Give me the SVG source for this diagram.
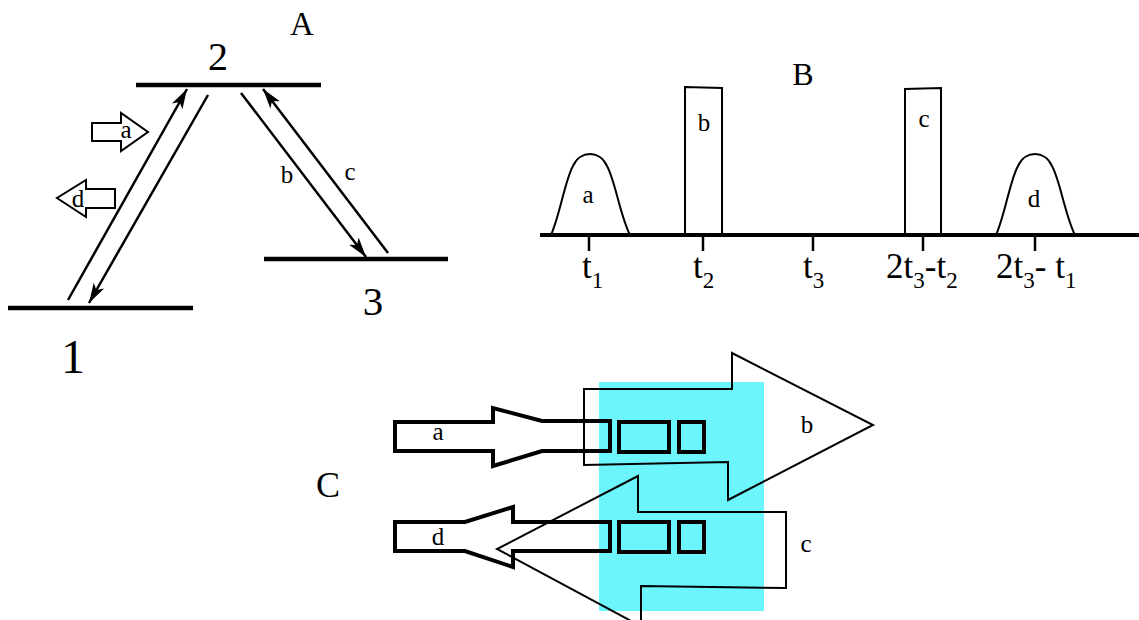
<svg xmlns="http://www.w3.org/2000/svg" width="1139" height="620" viewBox="0 0 1139 620">
<style>
text{font-family:"Liberation Serif","Times New Roman",serif;fill:#000}
.lbl{font-size:25px;text-anchor:middle}
.lvl{stroke:#000;stroke-width:4.3;fill:none}
.tr{stroke:#000;stroke-width:2.5;fill:none;marker-end:url(#ah)}
.thin{stroke:#000;stroke-width:2;fill:none;stroke-linejoin:miter}
.thick{stroke:#000;stroke-width:4;fill:none;stroke-linejoin:miter}
.tk{font-size:35px}
.sub{font-size:23px}
</style>
<defs>
<marker id="ah" viewBox="-22 -8 24 16" markerWidth="24" markerHeight="16" refX="0" refY="0" orient="auto" markerUnits="userSpaceOnUse">
<path d="M0,0 L-20,-6 L-15,0 L-20,6 Z" fill="#000"/>
</marker>
</defs>
<rect width="1139" height="620" fill="#fff"/>

<!-- Panel A -->
<g id="panelA">
<text x="302" y="35" font-size="33" text-anchor="middle">A</text>
<g id="level2"><line class="lvl" x1="136" y1="85" x2="321" y2="85"/><text x="218" y="70" font-size="40" text-anchor="middle">2</text></g>
<g id="level1"><line class="lvl" x1="8" y1="308" x2="193" y2="308"/><text x="73" y="373" font-size="48" text-anchor="middle">1</text></g>
<g id="level3"><line class="lvl" x1="264" y1="259" x2="448" y2="259"/><text x="373" y="315" font-size="41" text-anchor="middle">3</text></g>
<g id="pulseA_a"><path class="thin" d="M92,123 L121,123 L121,113 L148,132 L121,151 L121,141 L92,141 Z"/><text class="lbl" x="126" y="138">a</text></g>
<g id="pulseA_d"><path class="thin" d="M115,189 L86,189 L86,180 L57,198 L86,217 L86,208 L115,208 Z"/><text class="lbl" x="78" y="207">d</text></g>
<text class="lbl" x="287" y="183" font-size="22">b</text>
<text class="lbl" x="350" y="180" font-size="22">c</text>
</g>
<g id="connectors">
<line class="tr" x1="68" y1="300" x2="187" y2="89"/>
<line class="tr" x1="208" y1="95" x2="89" y2="303"/>
<line class="tr" x1="241" y1="93" x2="366" y2="257"/>
<line class="tr" x1="388" y1="253" x2="263" y2="89"/>
</g>

<!-- Panel B -->
<g id="panelB">
<text x="803" y="85" font-size="32" text-anchor="middle">B</text>
<line x1="540" y1="235" x2="1139" y2="235" stroke="#000" stroke-width="4"/>
<g stroke="#000" stroke-width="2.5">
<line x1="589" y1="235" x2="589" y2="251"/>
<line x1="703" y1="235" x2="703" y2="251"/>
<line x1="813" y1="235" x2="813" y2="251"/>
<line x1="923" y1="235" x2="923" y2="251"/>
<line x1="1035" y1="235" x2="1035" y2="251"/>
</g>
<g id="pulseB_a"><path class="thin" stroke-width="2.5" d="M551,235 C560,215 565,180 573,166 C580,150 600,150 607,166 C615,180 620,215 630,235"/><text class="lbl" x="588" y="203">a</text></g>
<g id="pulseB_b"><path class="thin" stroke-width="2.5" d="M685,235 L685,87 L722,88 L722,235"/><text class="lbl" x="704" y="131">b</text></g>
<g id="pulseB_c"><path class="thin" stroke-width="2.5" d="M905,235 L905,89 L941,88 L941,235"/><text class="lbl" x="924" y="127">c</text></g>
<g id="pulseB_d"><path class="thin" stroke-width="2.5" d="M996,235 C1005,215 1010,180 1018,166 C1025,150 1045,150 1052,166 C1060,180 1065,215 1075,235"/><text class="lbl" x="1034" y="207">d</text></g>
<text class="tk" x="582" y="278">t<tspan class="sub" dy="10">1</tspan></text>
<text class="tk" x="693" y="278">t<tspan class="sub" dy="10">2</tspan></text>
<text class="tk" x="803" y="278">t<tspan class="sub" dy="10">3</tspan></text>
<text class="tk" x="886" y="278">2t<tspan class="sub" dy="10">3</tspan><tspan dy="-10">-t</tspan><tspan class="sub" dy="10">2</tspan></text>
<text class="tk" x="996" y="278">2t<tspan class="sub" dy="10">3</tspan><tspan dy="-10">- t</tspan><tspan class="sub" dy="10">1</tspan></text>
</g>

<!-- Panel C -->
<g id="panelC">
<rect x="599" y="382" width="165" height="229" fill="#6cf5fc"/>
<text x="316" y="497" font-size="36">C</text>
<g id="beam_b"><path class="thin" d="M584,389 L732,389 L732,353 L873,425 L728,500 L728,462 L584,465 Z"/><text class="lbl" x="807" y="433">b</text></g>
<g id="beam_c"><path class="thin" d="M633,622 L497,549 L638,476 L638,512 L786,512 L786,588 L641,586 L641,622"/><text class="lbl" x="806" y="552">c</text></g>
<g id="beam_a"><path class="thick" d="M395,422 L493,422 L493,408 L542,421 L610,421 L610,451 L542,451 L493,466 L493,451 L395,451 Z"/>
<rect class="thick" x="619" y="422" width="50" height="30"/><rect class="thick" x="679" y="422" width="25" height="30"/>
<text class="lbl" x="438" y="440">a</text></g>
<g id="beam_d"><path class="thick" d="M395,522 L465,522 L513,507 L513,522 L610,522 L610,551 L513,551 L513,567 L465,551 L395,551 Z"/>
<rect class="thick" x="619" y="522" width="50" height="30"/><rect class="thick" x="679" y="522" width="25" height="30"/>
<text class="lbl" x="438" y="545">d</text></g>
</g>
</svg>
